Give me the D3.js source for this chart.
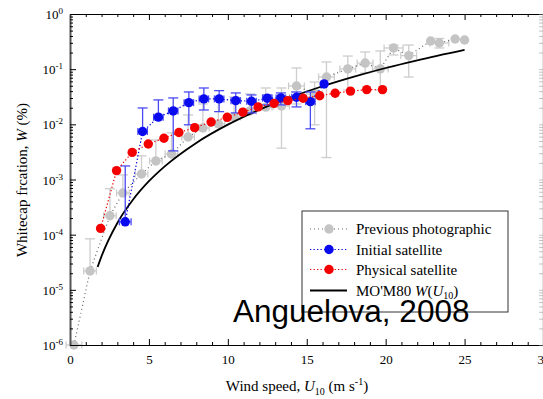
<!DOCTYPE html>
<html>
<head>
<meta charset="utf-8">
<script src="https://cdn.jsdelivr.net/npm/d3@7"></script>
<style>
  body { margin: 0; background: #fff; }
</style>
</head>
<body>
<script>

// previous photographic (grey)
const grayU  = [0.25, 1.27, 2.53, 3.35, 4.53, 5.44, 6.43, 7.48, 8.42, 9.4, 10.4, 11.4, 12.4, 13.4, 14.35, 15.5, 16.25, 17.6, 18.7, 19.66, 20.5, 21.46, 22.85, 23.4, 24.4, 25.0];
const grayW  = [1e-6, 2.2e-5, 2.2e-4, 5.7e-4, 1.26e-3, 2.17e-3, 2.9e-3, 5.9e-3, 8.6e-3, 0.0102, 0.0136, 0.0175, 0.0205, 0.0215, 0.0496, 0.0355, 0.0722, 0.101, 0.129, 0.101, 0.242, 0.176, 0.324, 0.298, 0.352, 0.338];
const grayHi = [null, 8.4e-5, 6.8e-4, 1.21e-3, 2.68e-3, 5.2e-3, 7.0e-3, 0.0148, 0.0234, 0.0277, 0.0314, 0.0355, 0.0456, 0.0456, 0.105, 0.0586, 0.135, 0.173, 0.205, 0.214, 0.274, 0.274, null, 0.36, null, null];
const grayLo = [null, null, null, null, null, null, null, null, null, null, null, null, null, 3.7e-3, 0.0234, 9.8e-3, 2.5e-3, 0.042, 0.085, 0.042, 0.181, 0.072, null, 0.242, null, null];
const grayXe = [0.5, 0.4, 0.4, 0.4, 0.4, 0.4, 0.4, 0.4, 0.4, 0.4, 0.4, 0.4, 0.4, 0.5, 0.5, 0.5, 0.5, 0.5, 0.5, 0.5, 0.6, 0.5, 0, 0.6, 0, 0];

// initial satellite (blue)
const blueU  = [3.5, 4.6, 5.6, 6.54, 7.53, 8.48, 9.45, 10.5, 11.5, 12.5, 13.36, 14.35, 15.23, 16.1];
const blueW  = [1.71e-4, 7.4e-3, 0.0135, 0.0175, 0.0247, 0.0289, 0.0289, 0.0269, 0.0262, 0.0297, 0.0301, 0.031, 0.0258, 0.054];
const blueHi = [1.76e-3, 0.0198, 0.0277, 0.0301, 0.0386, 0.0456, 0.0408, 0.0371, 0.0341, 0.0341, 0.0371, 0.0386, 0.0386, null];
const blueLo = [null, null, null, 3.3e-3, 9.8e-3, 0.0182, 0.017, 0.0161, 0.0161, 0.0225, 0.0225, 0.0207, 8.3e-3, null];
const blueXe = [0.37, 0.3, 0.3, 0.3, 0.3, 0.3, 0.3, 0.3, 0.3, 0.3, 0.3, 0.3, 0.3, 0];

// physical satellite (red)
const redU = [1.94, 2.95, 3.94, 4.96, 5.95, 6.9, 7.9, 8.94, 9.96, 10.95, 11.92, 12.93, 13.8, 14.77, 15.82, 16.8, 17.77, 18.8, 19.8];
const redW = [1.3e-4, 1.45e-3, 3.1e-3, 4.4e-3, 5.6e-3, 7.1e-3, 8.7e-3, 0.011, 0.0134, 0.0166, 0.0207, 0.024, 0.0269, 0.0297, 0.033, 0.0366, 0.040, 0.0426, 0.0426];

// MO'M80 curve
const momU = [1.75, 2, 3, 4, 5, 6, 8, 10, 12, 14, 16, 18, 20, 22, 25];
const momW = [2.59e-5, 4.08e-5, 1.63e-4, 4.34e-4, 9.3e-4, 1.73e-3, 4.61e-3, 9.87e-3, 0.0184, 0.0311, 0.049, 0.0732, 0.105, 0.145, 0.224];

const xTicks = [0, 5, 10, 15, 20, 25, 30];
const yTicks = [1e-6, 1e-5, 1e-4, 1e-3, 1e-2, 1e-1, 1];
const legendLabels = ["Previous photographic", "Initial satellite", "Physical satellite"];

const SERIF = "'Liberation Serif', 'Times New Roman', serif";
const SANS = "'Liberation Sans', Arial, sans-serif";

const W = 543, H = 399;
const svg = d3.select("body").append("svg").attr("width", W).attr("height", H);

const x = d3.scaleLinear().domain([0, 30]).range([70, 543.5]);
const y = d3.scaleLog().domain([1e-6, 1]).range([345, 14]);

// error bars
function errBars(U, Wv, lo, hi, xe, color) {
  const g = svg.append("g").attr("stroke", color).attr("stroke-width", 1.3).attr("fill", "none");
  U.forEach((u, i) => {
    const cx = x(u), cy = y(Wv[i]);
    if (hi[i] != null) {
      g.append("line").attr("x1", cx).attr("x2", cx).attr("y1", cy).attr("y2", y(hi[i]));
      g.append("line").attr("x1", cx - 5).attr("x2", cx + 5).attr("y1", y(hi[i])).attr("y2", y(hi[i]));
    }
    if (lo[i] != null) {
      g.append("line").attr("x1", cx).attr("x2", cx).attr("y1", cy).attr("y2", y(lo[i]));
      g.append("line").attr("x1", cx - 5).attr("x2", cx + 5).attr("y1", y(lo[i])).attr("y2", y(lo[i]));
    }
    if (xe[i] > 0) {
      const a = x(u - xe[i]), b = x(u + xe[i]);
      g.append("line").attr("x1", a).attr("x2", b).attr("y1", cy).attr("y2", cy);
      g.append("line").attr("x1", a).attr("x2", a).attr("y1", cy - 3.5).attr("y2", cy + 3.5);
      g.append("line").attr("x1", b).attr("x2", b).attr("y1", cy - 3.5).attr("y2", cy + 3.5);
    }
  });
}

function series(U, Wv, color, lineColor, dash) {
  const pts = U.map((u, i) => [u, Wv[i]]);
  svg.append("path")
    .attr("d", d3.line().x(d => x(d[0])).y(d => y(d[1]))(pts))
    .attr("fill", "none").attr("stroke", lineColor).attr("stroke-width", 1.2)
    .attr("stroke-dasharray", dash);
  svg.append("g").selectAll("circle").data(pts).join("circle")
    .attr("cx", d => x(d[0])).attr("cy", d => y(d[1])).attr("r", 4.7)
    .attr("fill", color);
}

errBars(grayU, grayW, grayLo, grayHi, grayXe, "#cdcdcd");
series(grayU, grayW, "#c4c4c4", "#666", "1,3");

svg.append("path")
  .attr("d", d3.line().x(d => x(d[0])).y(d => y(d[1])).curve(d3.curveMonotoneX)(momU.map((u, i) => [u, momW[i]])))
  .attr("fill", "none").attr("stroke", "#000").attr("stroke-width", 1.8);

errBars(blueU, blueW, blueLo, blueHi, blueXe, "#4a4af5");
series(blueU, blueW, "#0a0aee", "#0000dd", "1.3,2.2");
series(redU, redW, "#f40000", "#ee0000", "1.3,2.2");

// axes
const axBottom = svg.append("g").attr("transform", "translate(0,345)")
  .call(d3.axisBottom(x).tickValues(xTicks).tickSizeInner(-6).tickSizeOuter(0).tickPadding(10).tickFormat(d3.format("d")));
const axTop = svg.append("g").attr("transform", "translate(0,14)")
  .call(d3.axisTop(x).tickValues(xTicks).tickSizeInner(-6).tickSizeOuter(0).tickFormat(""));
const minorX = d3.range(0, 31).filter(v => v % 5 !== 0);
svg.append("g").attr("transform", "translate(0,345)")
  .call(d3.axisBottom(x).tickValues(minorX).tickSizeInner(-3).tickSizeOuter(0).tickFormat(""))
  .select(".domain").remove();
svg.append("g").attr("transform", "translate(0,14)")
  .call(d3.axisTop(x).tickValues(minorX).tickSizeInner(-3).tickSizeOuter(0).tickFormat(""))
  .select(".domain").remove();

const axLeft = svg.append("g").attr("transform", "translate(70,0)")
  .call(d3.axisLeft(y).tickValues(yTicks).tickSizeInner(-6).tickSizeOuter(0).tickPadding(7).tickFormat(d => Math.round(Math.log10(d))));
const minorY = [];
for (let k = -6; k < 0; k++) for (let m = 2; m <= 9; m++) minorY.push(m * Math.pow(10, k));
svg.append("g").attr("transform", "translate(70,0)")
  .call(d3.axisLeft(y).tickValues(minorY).tickSizeInner(-3).tickSizeOuter(0).tickFormat(""))
  .select(".domain").remove();
const axRight = svg.append("g").attr("transform", "translate(542.5,0)")
  .call(d3.axisRight(y).tickValues(minorY.concat(yTicks)).tickSizeInner(-3).tickSizeOuter(0).tickFormat(""));
axRight.selectAll("line,path").attr("stroke", "#888").attr("stroke-dasharray", "1,1");

axLeft.select(".domain").attr("stroke", "#555").attr("stroke-width", 2);
axLeft.selectAll(".tick text").each(function(d) {
  const t = d3.select(this);
  const e = Math.round(Math.log10(d));
  t.text(null).attr("font-size", 13).attr("fill", "#000").attr("dy", "0.35em");
  t.append("tspan").text("10");
  t.append("tspan").attr("dy", -5).attr("font-size", 9).text(e);
});
[axBottom, axTop, axLeft].forEach(g => g.attr("font-family", null).selectAll("text").style("font-family", SERIF));
axBottom.selectAll("text").attr("font-size", 13).attr("fill", "#000");
svg.selectAll(".tick line").attr("stroke-width", 1);

// axis titles
const ytitle = svg.append("text").attr("transform", "translate(27,180) rotate(-90)")
  .attr("text-anchor", "middle").attr("font-size", 15).style("font-family", SERIF);
ytitle.append("tspan").text("Whitecap frcation, ");
ytitle.append("tspan").attr("font-style", "italic").text("W");
ytitle.append("tspan").text(" (%)");

const xtitle = svg.append("text").attr("x", 297).attr("y", 391)
  .attr("text-anchor", "middle").attr("font-size", 15).style("font-family", SERIF);
xtitle.append("tspan").text("Wind speed, ");
xtitle.append("tspan").attr("font-style", "italic").text("U");
xtitle.append("tspan").attr("font-size", 10).attr("dy", 4).text("10");
xtitle.append("tspan").attr("dy", -4).text(" (m s");
xtitle.append("tspan").attr("font-size", 10).attr("dy", -6).text("-1");
xtitle.append("tspan").attr("dy", 6).text(")");

// legend
const lg = svg.append("g").style("font-family", SERIF);
lg.append("rect").attr("x", 302).attr("y", 211).attr("width", 206).attr("height", 101)
  .attr("fill", "#fff").attr("stroke", "#333").attr("stroke-width", 1);
const legColors = [["#c4c4c4", "#666"], ["#0a0aee", "#0000dd"], ["#f40000", "#ee0000"]];
const rowY = [229, 249.5, 269.5, 290.5];
legendLabels.forEach((lab, i) => {
  lg.append("line").attr("x1", 310).attr("x2", 347).attr("y1", rowY[i]).attr("y2", rowY[i])
    .attr("stroke", legColors[i][1]).attr("stroke-width", 1.2).attr("stroke-dasharray", i === 0 ? "1,3" : "1.3,2.2");
  lg.append("circle").attr("cx", 329).attr("cy", rowY[i]).attr("r", 4.7).attr("fill", legColors[i][0]);
  lg.append("text").attr("x", 356).attr("y", rowY[i] + 5).attr("font-size", 15).text(lab);
});
lg.append("line").attr("x1", 310).attr("x2", 347).attr("y1", rowY[3]).attr("y2", rowY[3])
  .attr("stroke", "#000").attr("stroke-width", 1.8);
const mt = lg.append("text").attr("x", 356).attr("y", rowY[3] + 5).attr("font-size", 15);
mt.append("tspan").text("MO'M80 ");
mt.append("tspan").attr("font-style", "italic").text("W");
mt.append("tspan").text("(");
mt.append("tspan").attr("font-style", "italic").text("U");
mt.append("tspan").attr("font-size", 10).attr("dy", 3).text("10");
mt.append("tspan").attr("dy", -3).text(")");

svg.append("text").attr("x", 233).attr("y", 322)
  .style("font-family", SANS).attr("font-size", 31.5)
  .text("Anguelova, 2008");

</script>
</body>
</html>
